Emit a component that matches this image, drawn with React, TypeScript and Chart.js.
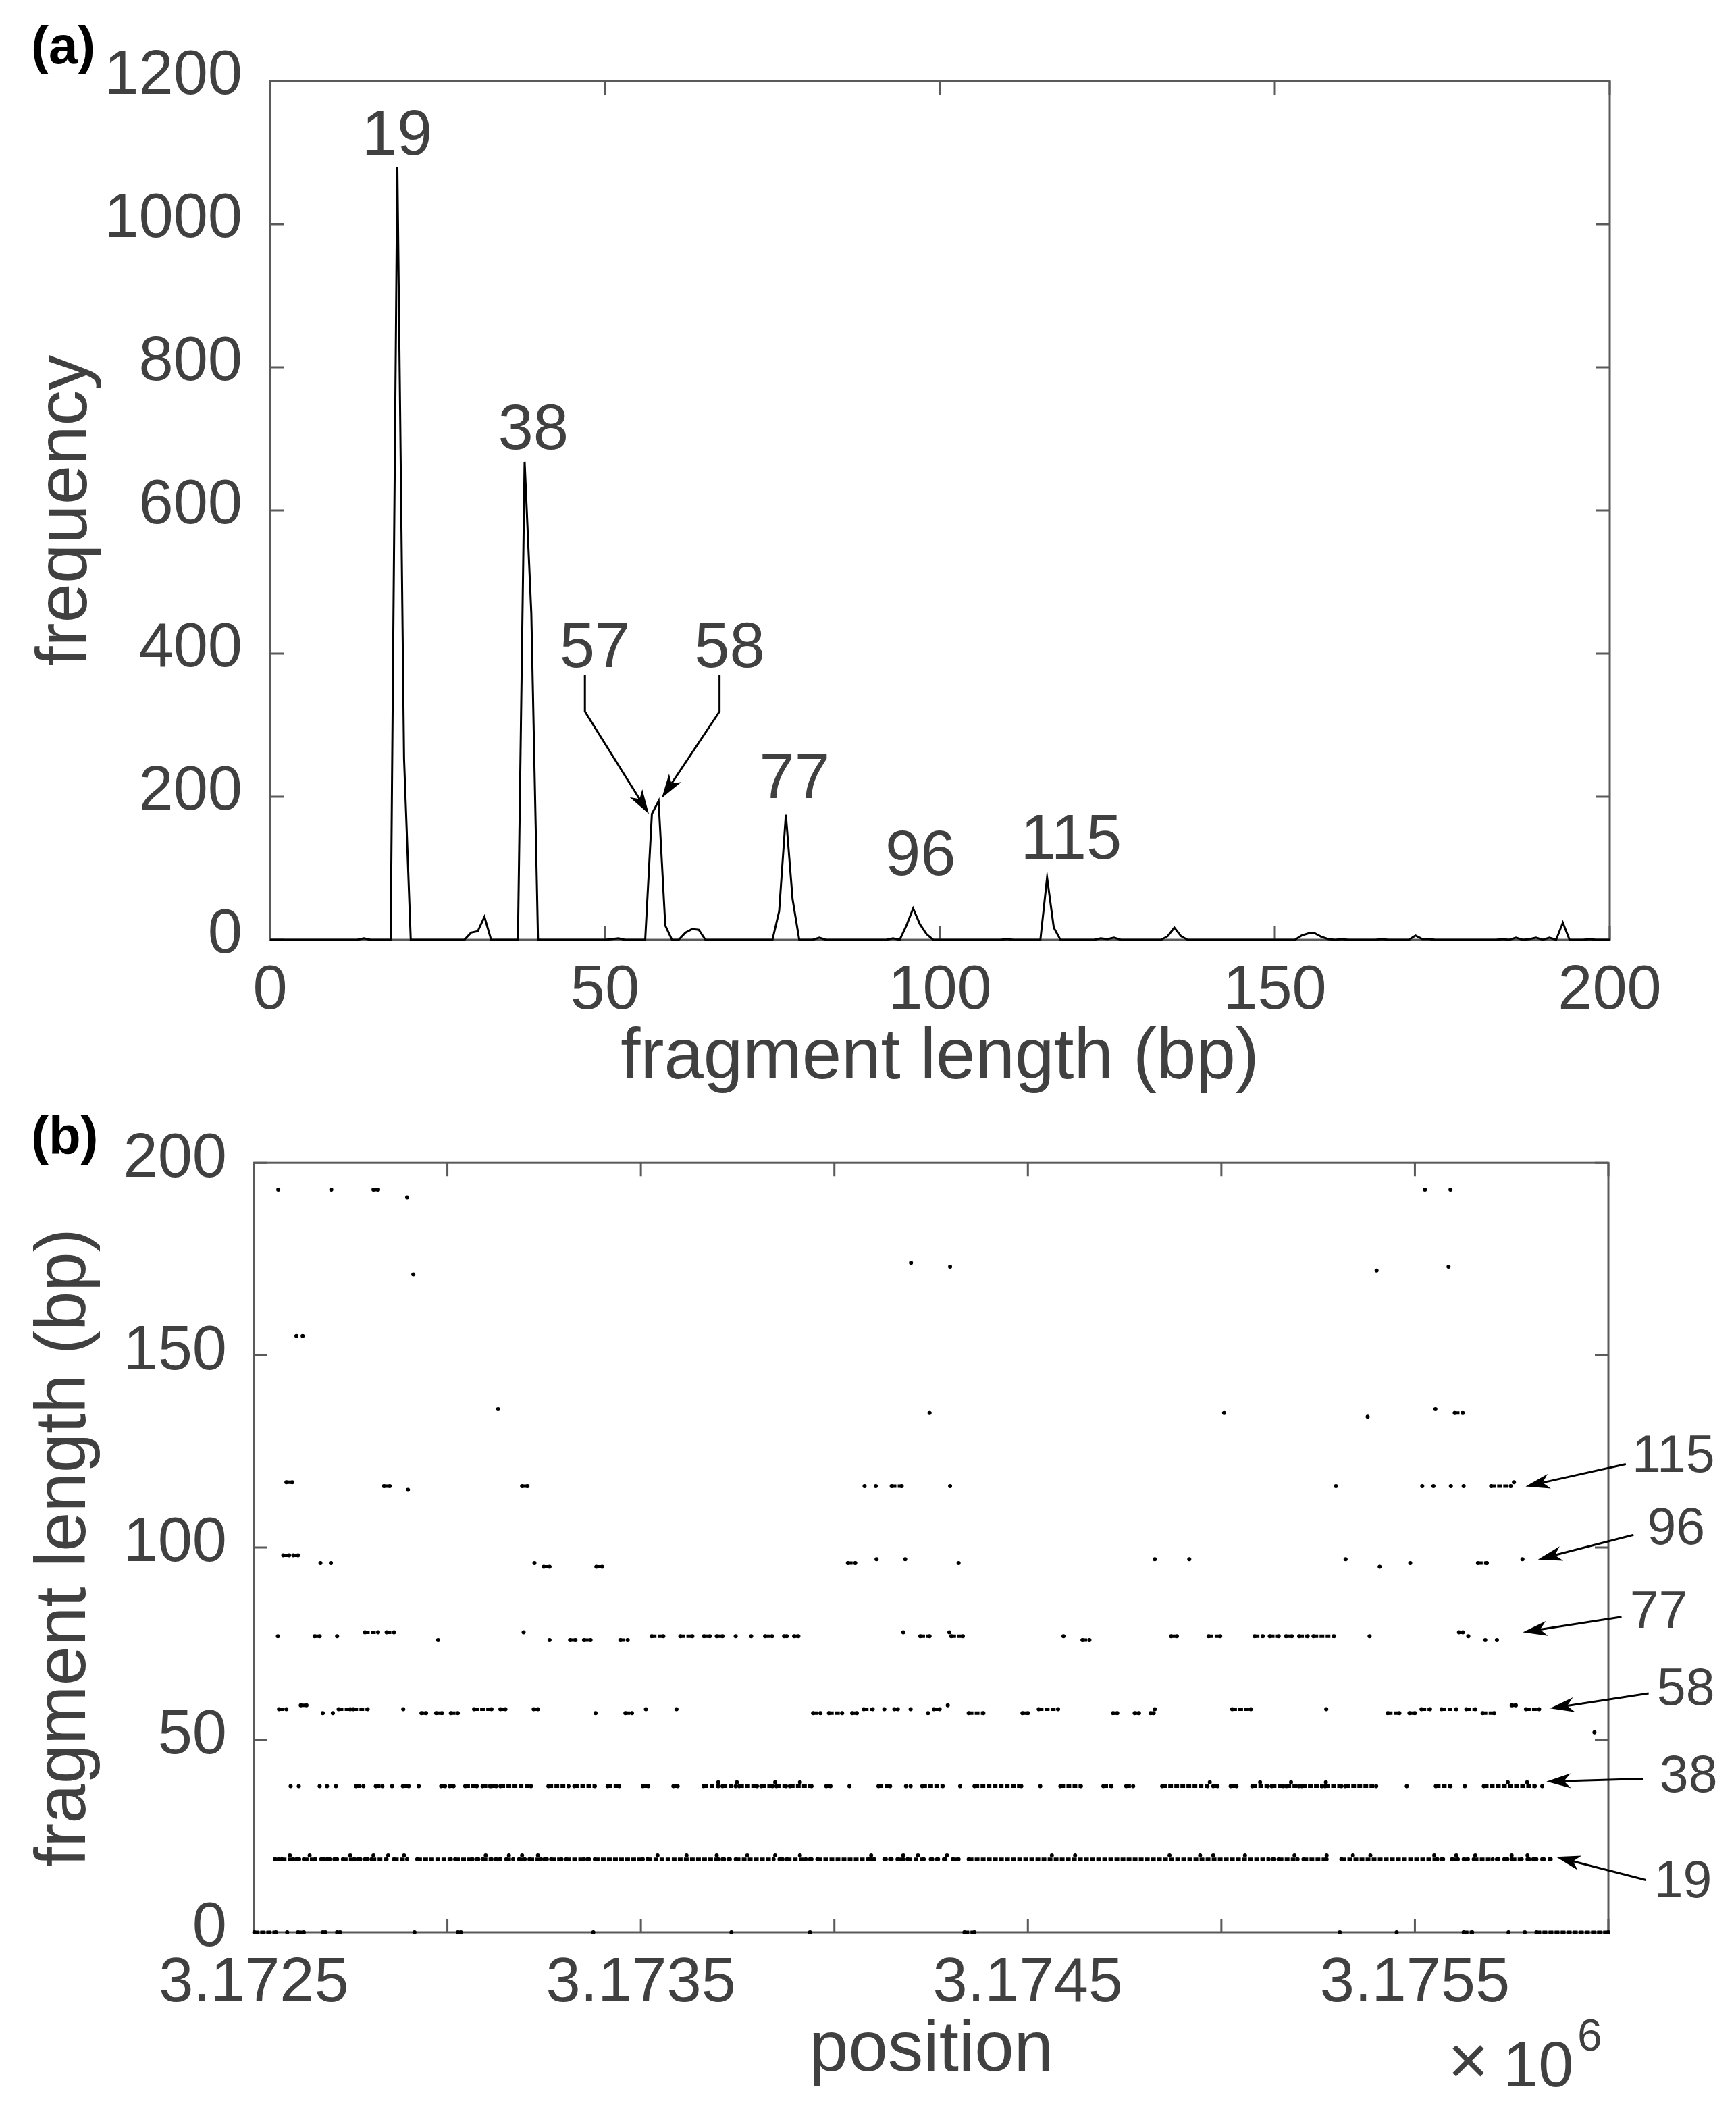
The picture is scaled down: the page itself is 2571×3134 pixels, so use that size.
import React, { useEffect, useRef } from 'react';
import { Chart, registerables } from 'chart.js';

Chart.register(...registerables);

const FONT = '"Liberation Sans", Arial, Helvetica, sans-serif';
const TEXT = '#404040';
const AXIS = '#5a5a5a';

// ---------------- Panel (a): fragment length histogram ----------------
const fragLengths = [0, 13, 14, 15, 18, 19, 20, 21, 29, 30, 31, 32, 33, 37, 38, 39, 40, 50, 51, 52, 53, 56, 57, 58, 59, 60, 61, 62, 63, 64, 65, 75, 76, 77, 78, 79, 81, 82, 83, 92, 93, 94, 95, 96, 97, 98, 99, 109, 110, 111, 115, 116, 117, 118, 123, 124, 125, 126, 127, 133, 134, 135, 136, 137, 153, 154, 155, 156, 157, 158, 159, 160, 161, 165, 166, 167, 170, 171, 172, 173, 174, 183, 184, 185, 186, 187, 188, 189, 190, 191, 192, 193, 194, 196, 197, 198, 200];
const frequencies = [0, 0, 2, 0, 0, 1080, 253, 0, 0, 10, 12, 32, 0, 0, 668, 456, 0, 0, 1, 2, 0, 0, 176, 194, 20, 0, 0, 10, 15, 14, 0, 0, 40, 175, 57, 0, 0, 3, 0, 0, 2, 0, 20, 44, 22, 8, 0, 0, 1, 0, 0, 87, 17, 0, 0, 2, 1, 3, 0, 0, 5, 17, 5, 0, 0, 6, 9, 9, 4, 1, 0, 1, 0, 0, 1, 0, 0, 6, 1, 1, 0, 0, 1, 0, 3, 0, 1, 3, 0, 3, 0, 24, 0, 0, 1, 0, 0];
const freqXTicks = [0, 50, 100, 150, 200];
const freqYTicks = [0, 200, 400, 600, 800, 1000, 1200];

const peakLabels = ['19', '38', '57', '58', '77', '96', '115'];
const peakLabelX = [18.95, 39.3, 48.5, 68.6, 78.3, 97.1, 119.6];
const peakLabelY = [1097, 686, 381, 381, 198, 91, 113];
const arrow57X = [47.0, 47.0, 56.55];
const arrow57Y = [370, 319, 176];
const arrow58X = [67.1, 67.1, 58.47];
const arrow58Y = [370, 319, 198];

// ---------------- Panel (b): fragment length vs position ----------------
const POS_BASE = 3172500; // offsets below are in bp from this position
const posTickStep = 500;
const posMax = 3176000;
const lenYTicks = [0, 50, 100, 150, 200];

const row193 = [[63], [200], [309, 321], [3026], [3092]];
const row191 = [[396]];
const row174 = [[1698]];
const row173 = [[1799], [3087]];
const row172 = [[2901]];
const row171 = [[412]];
const row155 = [[110], [126]];
const row136 = [[631], [3053]];
const row135 = [[1746], [2507], [3103, 3124]];
const row134 = [[2878]];
const row117 = [[84, 99], [3256]];
const row116 = [[336, 351], [693, 707], [1578], [1607], [1648, 1674], [1799], [2796], [3019], [3048], [3093], [3126], [3197, 3248]];
const row115 = [[398]];
const row98 = [[76, 91], [102, 114]];
const row97 = [[1609], [1683], [2328], [2417], [2821], [3278]];
const row96 = [[172], [199], [725], [1535, 1554], [1821], [2988], [3163, 3186]];
const row95 = [[749, 764], [885, 900], [2909]];
const row78 = [[287, 321], [343, 362], [697], [1678], [1797], [3114, 3124]];
const row77 = [[62], [157, 170], [215], [1028, 1058], [1102, 1133], [1163, 1178], [1196, 1211], [1245], [1285], [1321, 1339], [1370, 1377], [1396, 1407], [1722, 1746], [1802, 1832], [2092], [2370, 2385], [2467, 2497], [2586, 2607], [2625, 2648], [2667, 2682], [2701, 2723], [2738, 2791], [2883], [3138]];
const row76 = [[476], [764], [817, 831], [853, 870], [947, 966], [2141, 2159], [3182], [3212]];
const row59 = [[121, 136], [1793], [3250, 3261]];
const row58 = [[65, 84], [219, 249], [257, 294], [386], [569, 614], [637, 650], [723, 734], [1013], [1092], [1576, 1599], [1629], [1655, 1664], [1697], [1757, 1772], [2028, 2078], [2328], [2528, 2576], [2771], [3017, 3039], [3069, 3107], [3133, 3156], [3287, 3321]];
const row57 = [[178], [204], [433, 445], [471, 486], [509, 527], [883], [960, 977], [1445, 1464], [1486, 1520], [1546, 1558], [1742], [1847, 1885], [1986, 2000], [2220, 2231], [2276, 2287], [2317, 2325], [2930, 2960], [2986, 3000], [3175, 3205]];
const row52 = [[3464]];
const row39 = [[1200], [1248], [1347], [1411], [2470], [2600], [2680], [2770], [3240], [3290]];
const row38 = [[95], [116], [170], [189], [212], [264, 283], [315, 332], [357], [385, 400], [426], [484, 494], [506, 516], [546, 576], [591, 610], [614, 626], [637, 716], [761, 813], [828, 881], [914, 944], [1005, 1019], [1084, 1095], [1162, 1200], [1211, 1245], [1254, 1300], [1311, 1340], [1350, 1375], [1385, 1441], [1479, 1490], [1539], [1614, 1644], [1685], [1697], [1727, 1780], [1825], [1862, 1983], [2032], [2084, 2137], [2195, 2216], [2254, 2272], [2347, 2464], [2479, 2490], [2524, 2539], [2580, 2620], [2630, 2660], [2668, 2700], [2708, 2760], [2768, 2810], [2820, 2900], [2979], [3054, 3092], [3129], [3178, 3310], [3329]];
const row20 = [[93], [144], [249], [309], [347], [388], [599], [659], [693], [734], [1043], [1118], [1196], [1275], [1347], [1411], [1595], [1678], [1716], [1791], [2062], [2122], [2366], [2445], [2479], [2561], [2689], [2772], [2840], [2885], [3050], [3107], [3156], [3250], [3291]];
const row19 = [[54, 65], [72, 102], [110, 117], [129, 159], [174, 181], [189, 196], [208, 215], [230, 260], [268, 275], [287, 294], [304, 343], [362, 396], [422, 509], [520, 565], [576, 580], [591, 614], [625, 637], [652, 670], [685, 700], [712, 742], [751, 757], [768, 795], [807, 853], [862, 866], [881, 1005], [1017, 1200], [1211, 1215], [1227, 1230], [1245, 1343], [1358, 1366], [1377, 1426], [1437, 1441], [1456, 1588], [1595, 1603], [1629, 1633], [1644, 1648], [1663, 1678], [1689, 1731], [1749, 1753], [1765, 1768], [1783, 1787], [1806, 1821], [1847, 2622], [2633, 2637], [2648, 2697], [2712, 2772], [2810, 3058], [3069, 3073], [3096, 3111], [3126, 3137], [3152, 3201], [3212, 3216], [3231, 3239], [3250, 3276], [3291, 3295], [3306, 3314], [3329, 3333], [3348, 3351]];
const row0 = [[1, 57], [86], [114, 129], [178, 185], [215, 223], [415], [527, 535], [877], [1234], [1437], [1836, 1862], [2806], [2953], [3126, 3148], [3242], [3284], [3314, 3500]];

const fragmentRows = [
  { len: 193, runs: row193 }, { len: 191, runs: row191 }, { len: 174, runs: row174 },
  { len: 173, runs: row173 }, { len: 172, runs: row172 }, { len: 171, runs: row171 },
  { len: 155, runs: row155 }, { len: 136, runs: row136 }, { len: 135, runs: row135 },
  { len: 134, runs: row134 }, { len: 117, runs: row117 }, { len: 116, runs: row116 },
  { len: 115, runs: row115 }, { len: 98, runs: row98 }, { len: 97, runs: row97 },
  { len: 96, runs: row96 }, { len: 95, runs: row95 }, { len: 78, runs: row78 },
  { len: 77, runs: row77 }, { len: 76, runs: row76 }, { len: 59, runs: row59 },
  { len: 58, runs: row58 }, { len: 57, runs: row57 }, { len: 52, runs: row52 },
  { len: 39, runs: row39 }, { len: 38, runs: row38 }, { len: 20, runs: row20 },
  { len: 19, runs: row19 }, { len: 0, runs: row0 },
];

const bLabels = ['115', '96', '77', '58', '38', '19'];
const bLabelX = [3668, 3675, 3630, 3700, 3707, 3693];
const bLabelY = [123.4, 104.7, 82.9, 62.8, 40.2, 12.9];
const bArrowTailX = [3545, 3565, 3534, 3604, 3590, 3597];
const bArrowTailY = [121.7, 103.3, 82.0, 62.1, 39.9, 13.6];
const bArrowTipX = [3286, 3318, 3279, 3349, 3340, 3365];
const bArrowTipY = [115.9, 96.9, 78.0, 58.2, 39.2, 19.6];

// ---------------- helpers ----------------
function drawArrowPath(ctx: CanvasRenderingContext2D, pts: number[][]) {
  const n = pts.length;
  const [x1, y1] = pts[n - 2];
  const [x2, y2] = pts[n - 1];
  const dx = x2 - x1, dy = y2 - y1;
  const len = Math.hypot(dx, dy);
  const ux = dx / len, uy = dy / len;
  const nx = -uy, ny = ux;
  const L = 36, HW = 11;
  const bx = x2 - ux * L, by = y2 - uy * L;
  const notchX = x2 - ux * L * 0.72, notchY = y2 - uy * L * 0.72;
  ctx.beginPath();
  ctx.moveTo(pts[0][0], pts[0][1]);
  for (let i = 1; i < n - 1; i++) ctx.lineTo(pts[i][0], pts[i][1]);
  ctx.lineTo(notchX, notchY);
  ctx.stroke();
  ctx.beginPath();
  ctx.moveTo(x2, y2);
  ctx.lineTo(bx + nx * HW, by + ny * HW);
  ctx.lineTo(notchX, notchY);
  ctx.lineTo(bx - nx * HW, by - ny * HW);
  ctx.closePath();
  ctx.fill();
}

const framePlugin = {
  id: 'matlabFrame',
  beforeDatasetsDraw(chart: any) {
    const { ctx, chartArea } = chart;
    const { left, right, top, bottom } = chartArea;
    const xs = chart.scales.x, ys = chart.scales.y;
    const TL = 20;
    ctx.save();
    ctx.strokeStyle = AXIS;
    ctx.lineWidth = 3;
    ctx.strokeRect(left, top, right - left, bottom - top);
    ctx.beginPath();
    xs.ticks.forEach((t: any) => {
      const px = xs.getPixelForValue(t.value);
      ctx.moveTo(px, bottom); ctx.lineTo(px, bottom - TL);
      ctx.moveTo(px, top); ctx.lineTo(px, top + TL);
    });
    ys.ticks.forEach((t: any) => {
      const py = ys.getPixelForValue(t.value);
      ctx.moveTo(left, py); ctx.lineTo(left + TL, py);
      ctx.moveTo(right, py); ctx.lineTo(right - TL, py);
    });
    ctx.stroke();
    ctx.restore();
  },
};

function rotatedTitle(ctx: CanvasRenderingContext2D, text: string, x: number, y: number) {
  ctx.save();
  ctx.translate(x, y);
  ctx.rotate(-Math.PI / 2);
  ctx.textAlign = 'center';
  ctx.textBaseline = 'alphabetic';
  ctx.fillText(text, 0, 0);
  ctx.restore();
}

const annotationsA = {
  id: 'annA',
  afterDraw(chart: any) {
    const { ctx, chartArea } = chart;
    const xs = chart.scales.x, ys = chart.scales.y;
    ctx.save();
    ctx.fillStyle = TEXT;
    ctx.font = `94px ${FONT}`;
    ctx.textAlign = 'center';
    ctx.textBaseline = 'alphabetic';
    peakLabels.forEach((t, i) => {
      ctx.fillText(t, xs.getPixelForValue(peakLabelX[i]), ys.getPixelForValue(peakLabelY[i]));
    });
    ctx.strokeStyle = '#000';
    ctx.fillStyle = '#000';
    ctx.lineWidth = 3;
    drawArrowPath(ctx, arrow57X.map((v, i) => [xs.getPixelForValue(v), ys.getPixelForValue(arrow57Y[i])]));
    drawArrowPath(ctx, arrow58X.map((v, i) => [xs.getPixelForValue(v), ys.getPixelForValue(arrow58Y[i])]));
    ctx.fillStyle = TEXT;
    ctx.font = `105px ${FONT}`;
    ctx.textAlign = 'center';
    ctx.fillText('fragment length (bp)', (chartArea.left + chartArea.right) / 2, chartArea.bottom + 205);
    rotatedTitle(ctx, 'frequency', 128, (chartArea.top + chartArea.bottom) / 2);
    ctx.fillStyle = '#000';
    ctx.font = `bold 78px ${FONT}`;
    ctx.textAlign = 'left';
    ctx.fillText('(a)', 46, 94);
    ctx.restore();
  },
};

const annotationsB = {
  id: 'annB',
  afterDraw(chart: any) {
    const { ctx, chartArea } = chart;
    const xs = chart.scales.x, ys = chart.scales.y;
    ctx.save();
    ctx.strokeStyle = '#000';
    ctx.fillStyle = '#000';
    ctx.lineWidth = 3;
    bLabels.forEach((_, i) => {
      drawArrowPath(ctx, [
        [xs.getPixelForValue(POS_BASE + bArrowTailX[i]), ys.getPixelForValue(bArrowTailY[i])],
        [xs.getPixelForValue(POS_BASE + bArrowTipX[i]), ys.getPixelForValue(bArrowTipY[i])],
      ]);
    });
    ctx.fillStyle = TEXT;
    ctx.font = `77px ${FONT}`;
    ctx.textAlign = 'center';
    ctx.textBaseline = 'middle';
    bLabels.forEach((t, i) => {
      ctx.fillText(t, xs.getPixelForValue(POS_BASE + bLabelX[i]), ys.getPixelForValue(bLabelY[i]));
    });
    ctx.textBaseline = 'alphabetic';
    ctx.font = `105px ${FONT}`;
    ctx.fillText('position', (chartArea.left + chartArea.right) / 2, chartArea.bottom + 205);
    rotatedTitle(ctx, 'fragment length (bp)', 126, (chartArea.top + chartArea.bottom) / 2);
    ctx.textAlign = 'left';
    ctx.textBaseline = 'middle';
    ctx.font = `104px ${FONT}`;
    ctx.fillText('\u00d7', 2144, chartArea.bottom + 196);
    ctx.textBaseline = 'alphabetic';
    ctx.font = `94px ${FONT}`;
    ctx.fillText('10', 2226, chartArea.bottom + 228);
    ctx.font = `66px ${FONT}`;
    ctx.fillText('6', 2336, chartArea.bottom + 175);
    ctx.fillStyle = '#000';
    ctx.font = `bold 78px ${FONT}`;
    ctx.fillText('(b)', 46, 74);
    ctx.restore();
  },
};

function tickFont() {
  return { family: FONT, size: 92 };
}

export default function App() {
  const refA = useRef<HTMLCanvasElement | null>(null);
  const refB = useRef<HTMLCanvasElement | null>(null);

  useEffect(() => {
    const dataA = fragLengths.map((x, i) => ({ x, y: frequencies[i] }));
    const chartA = new Chart(refA.current as HTMLCanvasElement, {
      type: 'line',
      data: {
        datasets: [{
          data: dataA,
          borderColor: '#000',
          borderWidth: 3,
          pointRadius: 0,
          tension: 0,
          fill: false,
          clip: false as any,
        }],
      },
      options: {
        animation: false,
        responsive: false,
        devicePixelRatio: 1,
        layout: { padding: { left: 0, top: 120, right: 187, bottom: 0 } },
        plugins: { legend: { display: false }, tooltip: { enabled: false } },
        scales: {
          x: {
            type: 'linear', min: 0, max: 200,
            afterFit: (s: any) => { s.height = 243; },
            afterBuildTicks: (s: any) => { s.ticks = freqXTicks.map((v) => ({ value: v })); },
            grid: { display: false }, border: { display: false },
            ticks: { padding: 13, color: TEXT, font: tickFont(), maxRotation: 0, autoSkip: false, callback: (v: any) => String(v) },
          },
          y: {
            type: 'linear', min: 0, max: 1200,
            afterFit: (s: any) => { s.width = 400; },
            afterBuildTicks: (s: any) => { s.ticks = freqYTicks.map((v) => ({ value: v })); },
            grid: { display: false }, border: { display: false },
            ticks: { padding: 33, labelOffset: -6, color: TEXT, font: tickFont(), autoSkip: false, callback: (v: any) => String(v) },
          },
        },
      } as any,
      plugins: [framePlugin, annotationsA],
    });

    const dataB: any[] = [];
    fragmentRows.forEach(({ len, runs }) => {
      runs.forEach((r) => {
        r.forEach((o) => dataB.push({ x: POS_BASE + o, y: len }));
        dataB.push({ x: POS_BASE + r[r.length - 1], y: null });
      });
    });

    const chartB = new Chart(refB.current as HTMLCanvasElement, {
      type: 'scatter',
      data: {
        datasets: [{
          data: dataB,
          showLine: true,
          spanGaps: false,
          borderColor: '#000',
          borderWidth: 5,
          borderDash: [7, 2],
          pointRadius: 3,
          pointBackgroundColor: '#000',
          pointBorderWidth: 0,
          clip: false as any,
        }],
      },
      options: {
        animation: false,
        responsive: false,
        devicePixelRatio: 1,
        layout: { padding: { left: 0, top: 83, right: 189, bottom: 0 } },
        plugins: { legend: { display: false }, tooltip: { enabled: false } },
        scales: {
          x: {
            type: 'linear', min: POS_BASE, max: posMax,
            afterFit: (s: any) => { s.height = 272; },
            grid: { display: false }, border: { display: false },
            ticks: {
              stepSize: posTickStep, padding: 13, color: TEXT, font: tickFont(), maxRotation: 0, minRotation: 0, autoSkip: false,
              callback: (v: any) => ((Number(v) - POS_BASE) % 1000 === 0 ? (Number(v) / 1e6).toFixed(4) : ''),
            },
          },
          y: {
            type: 'linear', min: 0, max: 200,
            afterFit: (s: any) => { s.width = 376; },
            afterBuildTicks: (s: any) => { s.ticks = lenYTicks.map((v) => ({ value: v })); },
            grid: { display: false }, border: { display: false },
            ticks: { padding: 32, labelOffset: -5, color: TEXT, font: tickFont(), autoSkip: false, callback: (v: any) => String(v) },
          },
        },
      } as any,
      plugins: [framePlugin, annotationsB],
    });

    return () => {
      chartA.destroy();
      chartB.destroy();
    };
  }, []);

  return (
    <div style={{ position: 'absolute', left: 0, top: 0, width: 2571, height: 3134, background: '#fff', overflow: 'hidden' }}>
      <canvas ref={refA} width={2571} height={1635} style={{ position: 'absolute', left: 0, top: 0, width: 2571, height: 1635 }} />
      <canvas ref={refB} width={2571} height={1499} style={{ position: 'absolute', left: 0, top: 1635, width: 2571, height: 1499 }} />
    </div>
  );
}
